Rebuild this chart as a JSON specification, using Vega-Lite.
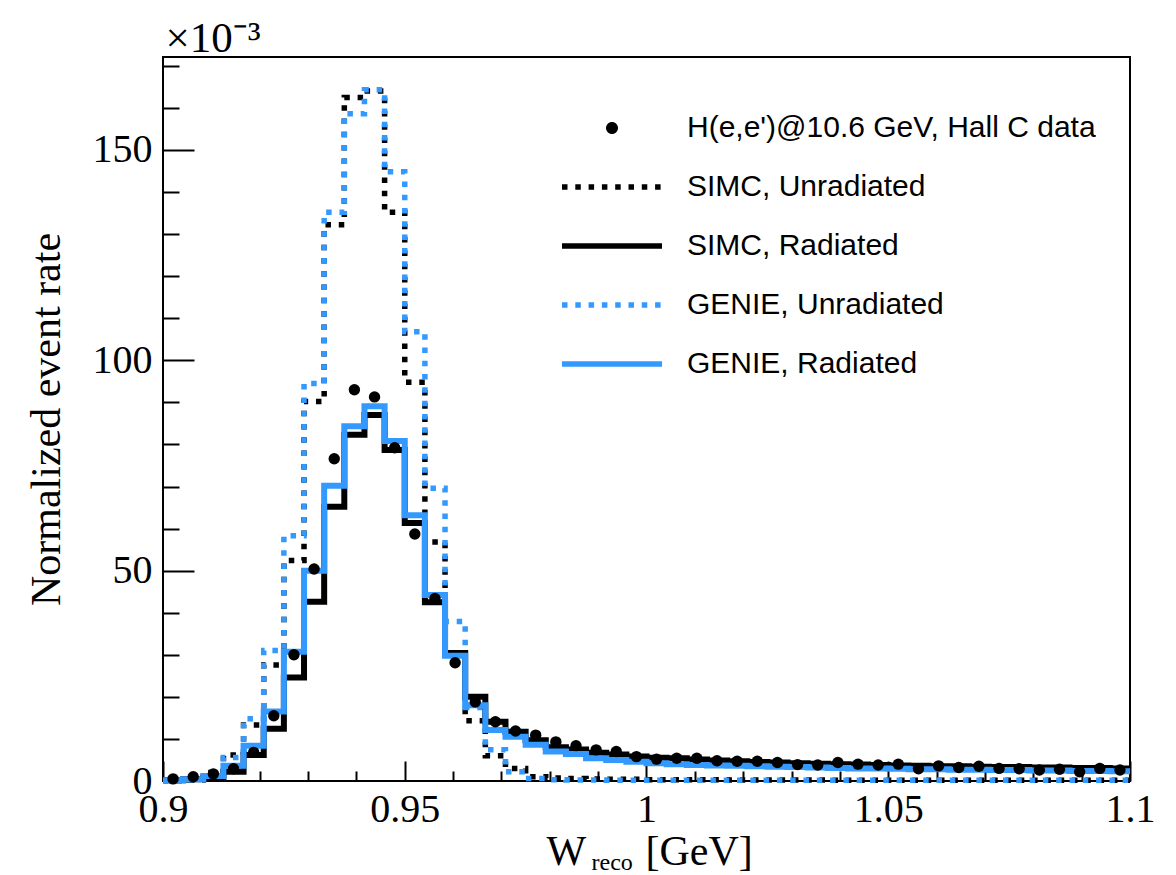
{
  "$schema": "https://vega.github.io/schema/vega-lite/v6.json",
  "width": 967,
  "height": 724,
  "autosize": {"type": "none"},
  "padding": {"left": 163, "top": 57, "right": 46, "bottom": 94},
  "background": "white",
  "config": {
    "view": {"stroke": "black", "strokeWidth": 2},
    "axis": {"labelFont": "Liberation Serif", "titleFont": "Liberation Serif", "labelColor": "black", "titleColor": "black", "tickColor": "black", "tickWidth": 2, "grid": false, "domain": false, "titleFontWeight": "normal"}
  },
  "datasets": {
    "h": [
      {"lo": 0.9, "su": 0.1, "gu": 0.1, "sr": 0.2, "gr": 0.2},
      {"lo": 0.904167, "su": 0.3, "gu": 0.3, "sr": 0.4, "gr": 0.4},
      {"lo": 0.908333, "su": 2.0, "gu": 1.6, "sr": 0.8, "gr": 1.2},
      {"lo": 0.9125, "su": 6.2, "gu": 5.6, "sr": 2.2, "gr": 3.6},
      {"lo": 0.916667, "su": 13.3, "gu": 14.8, "sr": 6.2, "gr": 8.4},
      {"lo": 0.920833, "su": 27.6, "gu": 31.0, "sr": 12.4, "gr": 16.5},
      {"lo": 0.925, "su": 52.4, "gu": 58.3, "sr": 24.6, "gr": 30.7},
      {"lo": 0.929167, "su": 90.2, "gu": 94.5, "sr": 42.6, "gr": 50.0},
      {"lo": 0.933333, "su": 132.2, "gu": 135.2, "sr": 65.2, "gr": 70.2},
      {"lo": 0.9375, "su": 162.5, "gu": 158.6, "sr": 82.3, "gr": 84.3},
      {"lo": 0.941667, "su": 164.0, "gu": 164.3, "sr": 87.0, "gr": 89.1},
      {"lo": 0.945833, "su": 135.2, "gu": 144.8, "sr": 78.7, "gr": 80.8},
      {"lo": 0.95, "su": 94.8, "gu": 106.8, "sr": 61.3, "gr": 63.2},
      {"lo": 0.954167, "su": 56.8, "gu": 69.6, "sr": 42.5, "gr": 44.2},
      {"lo": 0.958333, "su": 30.5, "gu": 37.9, "sr": 30.4, "gr": 29.8},
      {"lo": 0.9625, "su": 14.3, "gu": 17.5, "sr": 20.0, "gr": 18.0},
      {"lo": 0.966667, "su": 6.0, "gu": 7.4, "sr": 14.1, "gr": 12.1},
      {"lo": 0.970833, "su": 3.0, "gu": 2.2, "sr": 11.7, "gr": 10.5},
      {"lo": 0.975, "su": 1.0, "gu": 0.6, "sr": 9.7, "gr": 8.6},
      {"lo": 0.979167, "su": 0.7, "gu": 0.3, "sr": 8.0, "gr": 7.0},
      {"lo": 0.983333, "su": 0.6, "gu": 0.25, "sr": 7.5, "gr": 6.4},
      {"lo": 0.9875, "su": 0.5, "gu": 0.25, "sr": 6.7, "gr": 5.4},
      {"lo": 0.991667, "su": 0.4, "gu": 0.2, "sr": 6.3, "gr": 5.0},
      {"lo": 0.995833, "su": 0.4, "gu": 0.2, "sr": 5.8, "gr": 4.6},
      {"lo": 1.0, "su": 0.3, "gu": 0.2, "sr": 5.5, "gr": 4.2},
      {"lo": 1.004167, "su": 0.3, "gu": 0.2, "sr": 5.4, "gr": 4.0},
      {"lo": 1.008333, "su": 0.3, "gu": 0.2, "sr": 5.1, "gr": 3.8},
      {"lo": 1.0125, "su": 0.3, "gu": 0.2, "sr": 4.9, "gr": 3.7},
      {"lo": 1.016667, "su": 0.25, "gu": 0.2, "sr": 4.7, "gr": 3.6},
      {"lo": 1.020833, "su": 0.25, "gu": 0.2, "sr": 4.5, "gr": 3.5},
      {"lo": 1.025, "su": 0.25, "gu": 0.2, "sr": 4.4, "gr": 3.4},
      {"lo": 1.029167, "su": 0.25, "gu": 0.2, "sr": 4.2, "gr": 3.3},
      {"lo": 1.033333, "su": 0.25, "gu": 0.2, "sr": 4.1, "gr": 3.2},
      {"lo": 1.0375, "su": 0.2, "gu": 0.2, "sr": 4.0, "gr": 3.1},
      {"lo": 1.041667, "su": 0.2, "gu": 0.2, "sr": 3.9, "gr": 3.0},
      {"lo": 1.045833, "su": 0.2, "gu": 0.2, "sr": 3.8, "gr": 3.0},
      {"lo": 1.05, "su": 0.2, "gu": 0.2, "sr": 3.7, "gr": 2.9},
      {"lo": 1.054167, "su": 0.2, "gu": 0.2, "sr": 3.6, "gr": 2.8},
      {"lo": 1.058333, "su": 0.2, "gu": 0.2, "sr": 3.5, "gr": 2.8},
      {"lo": 1.0625, "su": 0.2, "gu": 0.2, "sr": 3.5, "gr": 2.7},
      {"lo": 1.066667, "su": 0.2, "gu": 0.2, "sr": 3.4, "gr": 2.7},
      {"lo": 1.070833, "su": 0.2, "gu": 0.2, "sr": 3.3, "gr": 2.6},
      {"lo": 1.075, "su": 0.2, "gu": 0.2, "sr": 3.3, "gr": 2.6},
      {"lo": 1.079167, "su": 0.2, "gu": 0.2, "sr": 3.2, "gr": 2.5},
      {"lo": 1.083333, "su": 0.2, "gu": 0.2, "sr": 3.2, "gr": 2.5},
      {"lo": 1.0875, "su": 0.2, "gu": 0.2, "sr": 3.1, "gr": 2.4},
      {"lo": 1.091667, "su": 0.2, "gu": 0.2, "sr": 3.1, "gr": 2.4},
      {"lo": 1.095833, "su": 0.2, "gu": 0.2, "sr": 3.0, "gr": 2.3},
      {"lo": 1.1, "su": 0.2, "gu": 0.2, "sr": 3.0, "gr": 2.3}
    ],
    "p": [
      {"c": 0.902083, "v": 0.5}, {"c": 0.90625, "v": 1.0}, {"c": 0.910417, "v": 1.7}, {"c": 0.914583, "v": 2.9},
      {"c": 0.91875, "v": 6.8}, {"c": 0.922917, "v": 15.5}, {"c": 0.927083, "v": 30.0}, {"c": 0.93125, "v": 50.4},
      {"c": 0.935417, "v": 76.6}, {"c": 0.939583, "v": 93.0}, {"c": 0.94375, "v": 91.3}, {"c": 0.947917, "v": 79.2},
      {"c": 0.952083, "v": 58.7}, {"c": 0.95625, "v": 43.4}, {"c": 0.960417, "v": 28.1}, {"c": 0.964583, "v": 18.8},
      {"c": 0.96875, "v": 14.1}, {"c": 0.972917, "v": 11.9}, {"c": 0.977083, "v": 10.9}, {"c": 0.98125, "v": 9.3},
      {"c": 0.985417, "v": 8.4}, {"c": 0.989583, "v": 7.4}, {"c": 0.99375, "v": 7.0}, {"c": 0.997917, "v": 5.8},
      {"c": 1.002083, "v": 5.2}, {"c": 1.00625, "v": 5.4}, {"c": 1.010417, "v": 5.4}, {"c": 1.014583, "v": 4.8},
      {"c": 1.01875, "v": 4.7}, {"c": 1.022917, "v": 4.7}, {"c": 1.027083, "v": 4.4}, {"c": 1.03125, "v": 3.9},
      {"c": 1.035417, "v": 3.8}, {"c": 1.039583, "v": 4.4}, {"c": 1.04375, "v": 4.0}, {"c": 1.047917, "v": 3.8},
      {"c": 1.052083, "v": 4.0}, {"c": 1.05625, "v": 2.9}, {"c": 1.060417, "v": 3.6}, {"c": 1.064583, "v": 3.2},
      {"c": 1.06875, "v": 3.5}, {"c": 1.072917, "v": 3.0}, {"c": 1.077083, "v": 2.9}, {"c": 1.08125, "v": 2.6},
      {"c": 1.085417, "v": 2.8}, {"c": 1.089583, "v": 2.2}, {"c": 1.09375, "v": 3.0}, {"c": 1.097917, "v": 2.6}
    ]
  },
  "resolve": {"axis": {"x": "independent", "y": "independent"}},
  "layer": [
    {
      "data": {"name": "h"},
      "mark": {"type": "line", "interpolate": "step-after", "strokeWidth": 5.5, "strokeDash": [5.5, 7.8], "strokeCap": "butt", "strokeJoin": "miter"},
      "encoding": {
        "x": {"field": "lo", "type": "quantitative", "scale": {"domain": [0.9, 1.1], "nice": false, "zero": false},
          "axis": {"orient": "bottom", "values": [0.9, 0.95, 1, 1.05, 1.1], "format": "~g", "tickSize": -20, "labelFontSize": 40, "labelPadding": 28, "labelFlush": false, "labelOverlap": false,
            "title": "W", "titleFontSize": 42, "titleX": 383, "titleAlign": "left", "titleY": 83, "titleBaseline": "alphabetic"}},
        "y": {"field": "su", "type": "quantitative", "scale": {"domain": [0, 172.1], "nice": false, "zero": true},
          "axis": {"orient": "left", "values": [0, 50, 100, 150], "tickSize": -31, "labelFontSize": 40, "labelPadding": 42, "labelOverlap": false, "labelFlush": false,
            "title": "Normalized event rate", "titleFontSize": 42, "titleX": -104, "titleY": 362, "titleAngle": -90, "titleBaseline": "alphabetic", "titleAlign": "center"}},
        "color": {"datum": "SIMC, Unradiated", "type": "nominal",
          "scale": {"domain": ["H(e,e')@10.6 GeV, Hall C data", "SIMC, Unradiated", "SIMC, Radiated", "GENIE, Unradiated", "GENIE, Radiated"], "range": ["black", "black", "black", "#3399ff", "#3399ff"]},
          "legend": {"title": null, "orient": "none", "legendX": 434, "legendY": 56, "padding": 0, "symbolSize": 10000, "symbolStrokeWidth": 5.5,
            "labelFont": "Liberation Sans", "labelFontSize": 30, "labelColor": "black", "labelOffset": 60, "rowPadding": 29, "labelLimit": 700,
            "encode": {"symbols": {"update": {
              "shape": {"signal": "substring(datum.value,0,1) == 'H' ? 'M-0.12,0A0.12,0.12,0,1,1,0.12,0A0.12,0.12,0,1,1,-0.12,0Z' : 'M-1,0L1,0'"},
              "fill": {"signal": "substring(datum.value,0,1) == 'H' ? 'black' : 'transparent'"},
              "stroke": {"scale": "color", "field": "value"},
              "strokeWidth": {"signal": "substring(datum.value,0,1) == 'H' ? 0 : 5.5"},
              "strokeDash": {"signal": "(datum.value == 'SIMC, Unradiated' || datum.value == 'GENIE, Unradiated') ? [5.5,7.8] : [1,0]"},
              "size": {"value": 10000},
              "opacity": {"value": 1}
            }}}}}
      }
    },
    {
      "data": {"name": "h"},
      "mark": {"type": "line", "interpolate": "step-after", "strokeWidth": 5.5, "strokeDash": [5.5, 7.8], "strokeCap": "butt", "strokeJoin": "miter"},
      "encoding": {
        "x": {"field": "lo", "type": "quantitative", "scale": {"domain": [0.9, 1.1], "nice": false, "zero": false},
          "axis": {"orient": "bottom", "values": [0.91, 0.92, 0.93, 0.94, 0.96, 0.97, 0.98, 0.99, 1.01, 1.02, 1.03, 1.04, 1.06, 1.07, 1.08, 1.09], "tickSize": -10, "labels": false,
            "title": "reco", "titleFontSize": 24, "titleX": 428, "titleAlign": "left", "titleY": 88, "titleBaseline": "alphabetic"}},
        "y": {"field": "gu", "type": "quantitative", "scale": {"domain": [0, 172.1], "nice": false, "zero": true},
          "axis": {"orient": "left", "values": [10, 20, 30, 40, 60, 70, 80, 90, 110, 120, 130, 140, 160, 170], "tickSize": -16, "labels": false,
            "title": "\u00d710\u207b\u00b3", "titleFontSize": 43, "titleAngle": 0, "titleAlign": "left", "titleX": 2, "titleY": -6, "titleBaseline": "alphabetic"}},
        "color": {"datum": "GENIE, Unradiated", "type": "nominal"}
      }
    },
    {
      "data": {"name": "h"},
      "mark": {"type": "line", "interpolate": "step-after", "strokeWidth": 6, "strokeCap": "butt", "strokeJoin": "miter"},
      "encoding": {
        "x": {"field": "lo", "type": "quantitative",
          "axis": {"orient": "bottom", "ticks": false, "labels": false, "title": "[GeV]", "titleFontSize": 42, "titleX": 482, "titleAlign": "left", "titleY": 83, "titleBaseline": "alphabetic"}},
        "y": {"field": "sr", "type": "quantitative", "axis": null},
        "color": {"datum": "SIMC, Radiated", "type": "nominal"}
      }
    },
    {
      "data": {"name": "h"},
      "mark": {"type": "line", "interpolate": "step-after", "strokeWidth": 6, "strokeCap": "butt", "strokeJoin": "miter"},
      "encoding": {
        "x": {"field": "lo", "type": "quantitative", "axis": null},
        "y": {"field": "gr", "type": "quantitative", "axis": null},
        "color": {"datum": "GENIE, Radiated", "type": "nominal"}
      }
    },
    {
      "data": {"name": "p"},
      "mark": {"type": "point", "shape": "circle", "filled": true, "size": 130, "opacity": 1},
      "encoding": {
        "x": {"field": "c", "type": "quantitative", "axis": null},
        "y": {"field": "v", "type": "quantitative", "axis": null},
        "color": {"datum": "H(e,e')@10.6 GeV, Hall C data", "type": "nominal"}
      }
    }
  ]
}
